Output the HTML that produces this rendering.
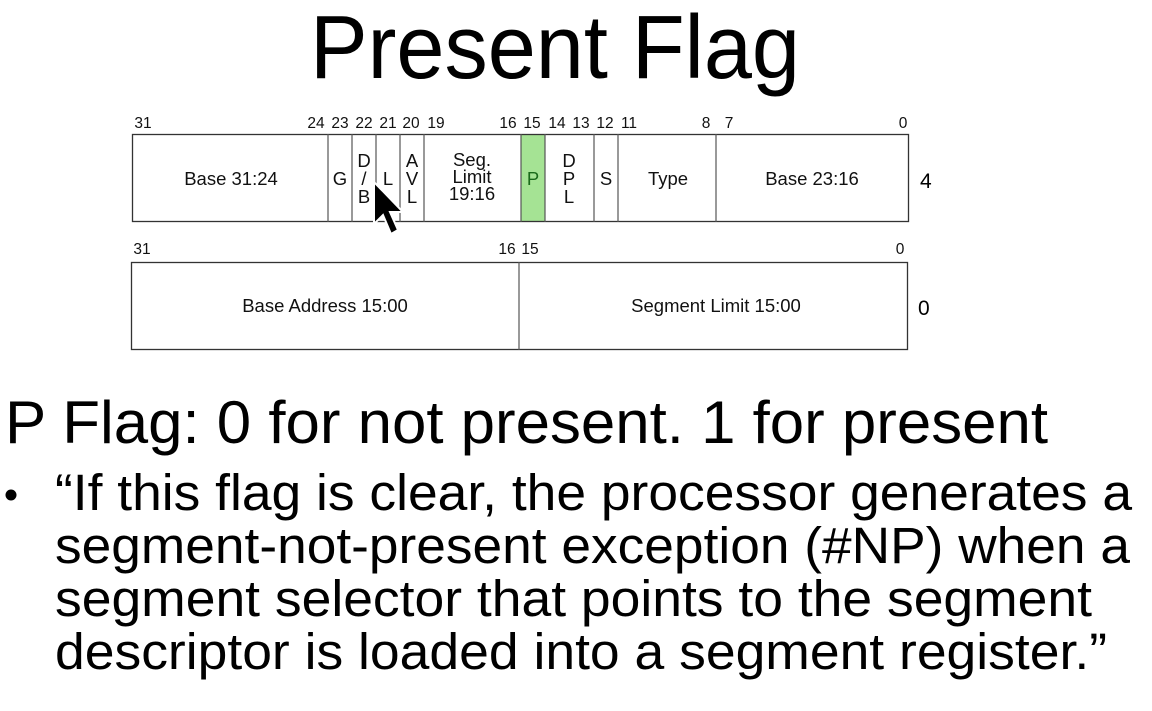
<!DOCTYPE html>
<html><head><meta charset="utf-8"><style>
html,body{margin:0;padding:0;background:#fff;}
svg{display:block;font-family:"Liberation Sans",Arial,sans-serif;}
</style></head><body>
<svg width="1152" height="711" viewBox="0 0 1152 711" xmlns="http://www.w3.org/2000/svg">
<rect width="1152" height="711" fill="#fff"/>
<text x="310" y="78" font-size="90" textLength="490" lengthAdjust="spacingAndGlyphs">Present Flag</text>

<g font-size="15.5" text-anchor="middle" fill="#111">
<text x="143" y="128">31</text>
<text x="316" y="128">24</text><text x="340" y="128">23</text><text x="364" y="128">22</text>
<text x="388" y="128">21</text><text x="411" y="128">20</text><text x="436" y="128">19</text>
<text x="508" y="128">16</text><text x="532" y="128">15</text><text x="557" y="128">14</text>
<text x="581" y="128">13</text><text x="605" y="128">12</text><text x="629" y="128">11</text>
<text x="706" y="128">8</text><text x="729" y="128">7</text><text x="903" y="128">0</text>
<text x="142" y="254">31</text><text x="507" y="254">16</text><text x="530" y="254">15</text><text x="900" y="254">0</text>
</g>

<rect x="521" y="134" width="24" height="88" fill="#a5e394"/>
<rect x="132.5" y="134.5" width="776" height="87" fill="none" stroke="#333" stroke-width="1.3"/>
<g stroke="#555" stroke-width="1.2">
<line x1="328" y1="134" x2="328" y2="222"/><line x1="352" y1="134" x2="352" y2="222"/>
<line x1="376" y1="134" x2="376" y2="222"/><line x1="400" y1="134" x2="400" y2="222"/>
<line x1="424" y1="134" x2="424" y2="222"/><line x1="521" y1="134" x2="521" y2="222"/>
<line x1="545" y1="134" x2="545" y2="222"/><line x1="594" y1="134" x2="594" y2="222"/>
<line x1="618" y1="134" x2="618" y2="222"/><line x1="716" y1="134" x2="716" y2="222"/>
</g>
<rect x="131.5" y="262.5" width="776" height="87" fill="none" stroke="#333" stroke-width="1.3"/>
<line x1="519" y1="262" x2="519" y2="350" stroke="#555" stroke-width="1.2"/>

<g font-size="18.5" text-anchor="middle" fill="#111">
<text x="231" y="185">Base 31:24</text>
<text x="340" y="185">G</text>
<text x="364" y="167">D</text><text x="364" y="185">/</text><text x="364" y="203">B</text>
<text x="388" y="185">L</text>
<text x="412" y="167">A</text><text x="412" y="185">V</text><text x="412" y="203">L</text>
<text x="472" y="166">Seg.</text><text x="472" y="183">Limit</text><text x="472" y="200">19:16</text>
<text x="533" y="185" fill="#1a6a1a">P</text>
<text x="569" y="167">D</text><text x="569" y="185">P</text><text x="569" y="203">L</text>
<text x="606" y="185">S</text>
<text x="668" y="185">Type</text>
<text x="812" y="185">Base 23:16</text>
<text x="325" y="312">Base Address 15:00</text>
<text x="716" y="312">Segment Limit 15:00</text>
</g>
<text x="920" y="188" font-size="21">4</text>
<text x="918" y="315" font-size="21">0</text>

<path d="M374 182 L374 224 L383 215 L391 234 L398 230 L390 212 L403 212 Z" fill="#000" stroke="#fff" stroke-width="2"/>

<text x="5" y="443" font-size="60" textLength="1043" lengthAdjust="spacingAndGlyphs">P Flag: 0 for not present. 1 for present</text>
<circle cx="11" cy="495" r="5.5" fill="#000"/>
<g font-size="51">
<text x="55" y="510" textLength="1077" lengthAdjust="spacingAndGlyphs">“If this flag is clear, the processor generates a</text>
<text x="55" y="563" textLength="1075" lengthAdjust="spacingAndGlyphs">segment-not-present exception (#NP) when a</text>
<text x="55" y="616" textLength="1037" lengthAdjust="spacingAndGlyphs">segment selector that points to the segment</text>
<text x="55" y="669" textLength="1052" lengthAdjust="spacingAndGlyphs">descriptor is loaded into a segment register.”</text>
</g>
</svg>
</body></html>
